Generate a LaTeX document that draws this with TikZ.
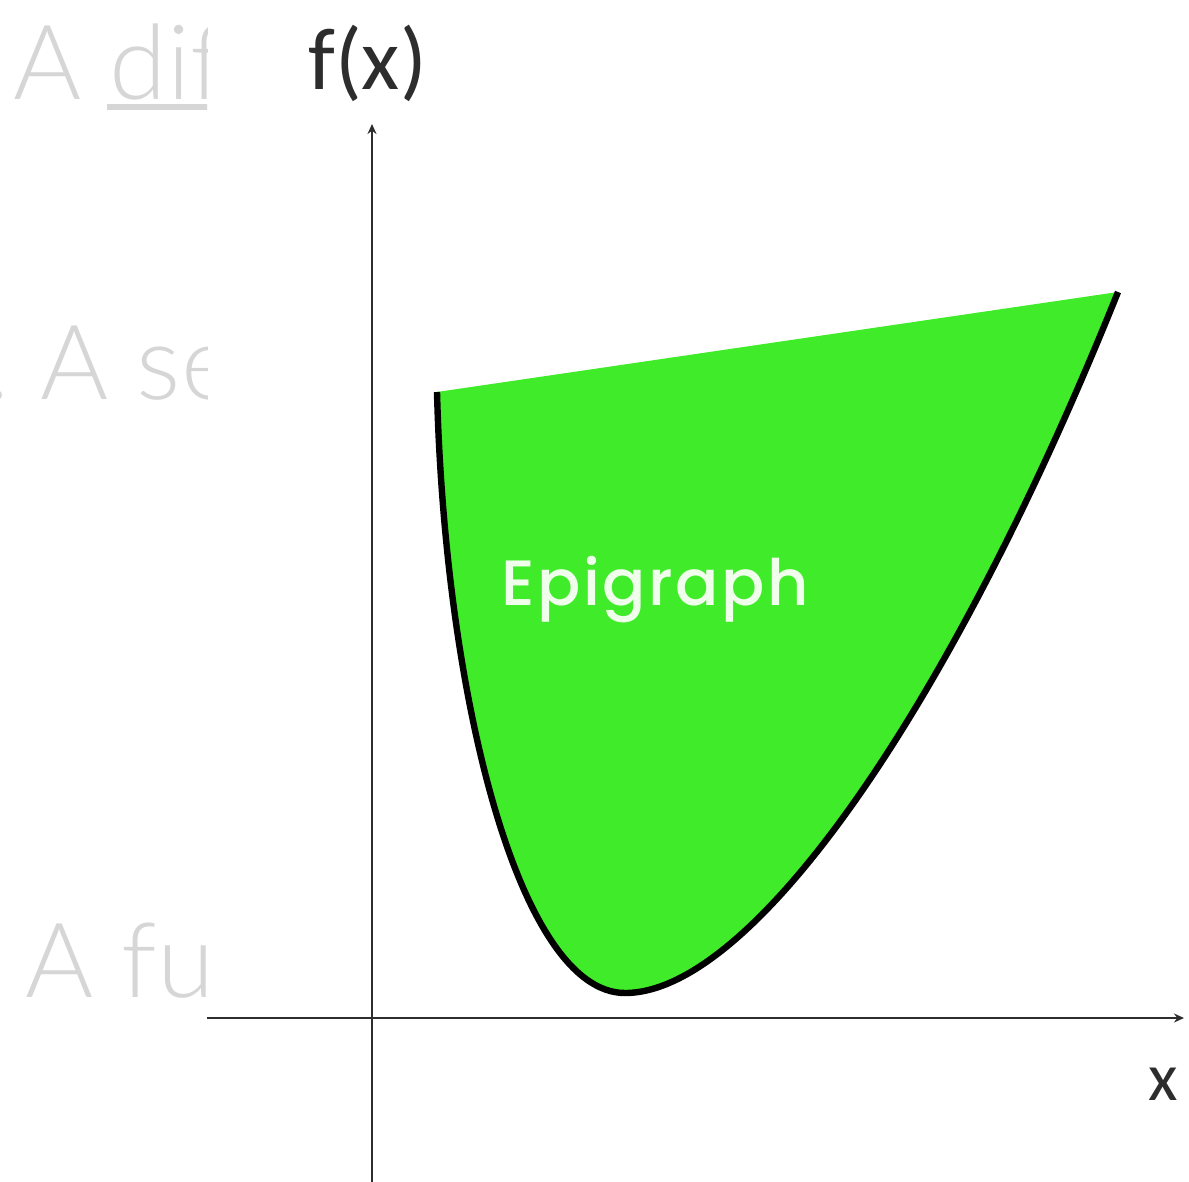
\documentclass[tikz,border=0pt]{standalone}
\usepackage{fontspec}
\setmainfont{Lato}
\newfontfamily\thinf{Lato Light}
\newfontfamily\carl{Carlito}
\newfontfamily\popp{Poppins Medium}[LetterSpace=4]
\usetikzlibrary{arrows.meta}
\definecolor{epigreen}{RGB}{64,235,42}
\definecolor{fadegray}{RGB}{214,214,214}
\definecolor{axisgray}{RGB}{45,45,45}
\definecolor{epiwhite}{RGB}{240,255,235}
\begin{document}
\begin{tikzpicture}[x=0.5pt,y=-0.5pt,
  axis/.style={draw=axisgray,line width=1.2pt,-{Stealth[length=5pt,width=4.5pt]}},
  fade/.style={inner sep=0pt,text=fadegray,font=\thinf\fontsize{52}{60}\selectfont},
  curveline/.style={draw=black,line width=3.2pt},
  axislabel/.style={anchor=base west,inner sep=0pt,text=axisgray}]
\useasboundingbox (0,0) rectangle (1189,1182);
\fill[white] (0,0) rectangle (1189,1182);

% faded, cut-off text on the left
\begin{scope}
  \clip (0,0) rectangle (207,1182);
  \node[fade,anchor=base west] (t1) at (13,100) {A dif};
  \fill[fadegray] (107,104) rectangle (215,110);
  \node[fade,anchor=base east] (t2n) at (10,400) {2.};
  \node[fade,anchor=base west] (t2) at (40,400) {A set};
  \node[fade,anchor=base west] (t3) at (25,997) {A fun};
\end{scope}

% axes
\coordinate (ybot) at (372,1182);
\coordinate (ytop) at (372,124);
\coordinate (xleft) at (207,1018);
\coordinate (xright) at (1184,1018);
\draw[axis] (ybot) -- (ytop);
\draw[axis] (xleft) -- (xright);

% epigraph region
\coordinate (L) at (437,392);
\coordinate (M) at (625,993);
\coordinate (R) at (1118,292);
\fill[epigreen] (L) .. controls (445,700) and (520,993) .. (M)
   .. controls (752,993) and (950,710) .. (R) -- cycle;
\draw[curveline] (L) .. controls (445,700) and (520,993) .. (M)
   .. controls (752,993) and (950,710) .. (R);

% labels
\node[axislabel,font=\carl\fontsize{44}{50}\selectfont] (fx) at (308,90) {f(x)};
\node[axislabel,font=\carl\fontsize{34}{40}\selectfont] (xl) at (1148,1100) {x};
\node[anchor=base west,inner sep=0pt,text=epiwhite,font=\popp\fontsize{32}{36}\selectfont] (epi) at (501,605) {Epigraph};
\end{tikzpicture}
\end{document}
